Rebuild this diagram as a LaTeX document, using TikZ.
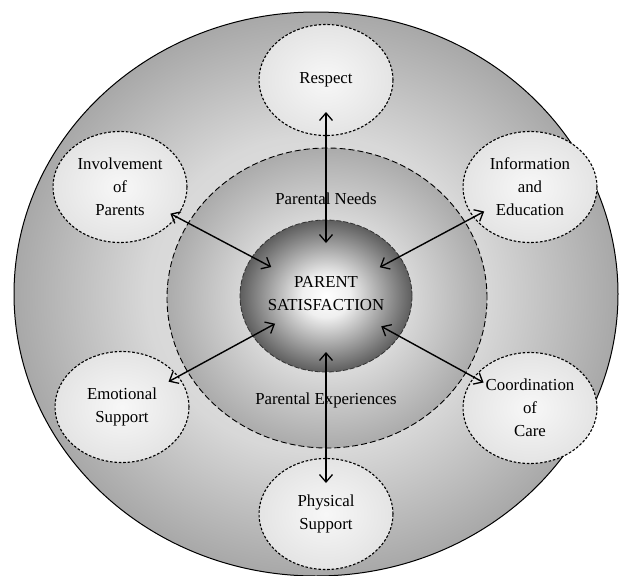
\documentclass[tikz,border=0pt]{standalone}
\usepackage{fontspec}
\setmainfont{Liberation Serif}
\usetikzlibrary{arrows.meta,shapes.geometric}
\definecolor{ringmid}{HTML}{D8D8D8}
\definecolor{ringedge}{HTML}{A8A8A8}
\definecolor{needmid}{HTML}{D8D8D8}
\definecolor{neededge}{HTML}{ABABAB}
\definecolor{coremid}{HTML}{EFEFEF}
\definecolor{coreedge}{HTML}{5E5E5E}
\definecolor{satedge}{HTML}{E4E4E4}
\pgfdeclareradialshading{outershade}{\pgfpoint{0bp}{0bp}}{color(0bp)=(ringmid!60!white); color(14bp)=(ringmid); color(25bp)=(ringedge); color(50bp)=(ringedge)}
\pgfdeclareradialshading{needshade}{\pgfpoint{0bp}{0bp}}{color(0bp)=(white!95!black); color(13bp)=(needmid); color(25bp)=(neededge); color(50bp)=(neededge)}
\pgfdeclareradialshading{coreshade}{\pgfpoint{0bp}{0bp}}{color(0bp)=(white); color(7bp)=(coremid); color(25bp)=(coreedge); color(50bp)=(coreedge)}
\pgfdeclareradialshading{satshade}{\pgfpoint{0bp}{0bp}}{color(0bp)=(white!97!black); color(25bp)=(satedge); color(50bp)=(satedge)}
\begin{document}
\begin{tikzpicture}[x=1pt,y=-1pt,
  txt/.style={font=\fontsize{16.8}{23}\selectfont, align=center},
  satellite/.style={ellipse, draw=black, line width=1.1pt, dash pattern=on 2.6pt off 1.8pt,
    minimum width=134pt, minimum height=111pt, inner sep=0pt, shading=satshade, txt},
  link/.style={{Straight Barb[length=7.5pt,width=13pt,line width=1.3pt]}-{Straight Barb[length=7.5pt,width=13pt,line width=1.3pt]}, line width=1.4pt}]
\useasboundingbox (0,0) rectangle (630,576);
% rings
\node[ellipse, draw=black, line width=1pt, minimum width=604pt, minimum height=564pt, inner sep=0pt, shading=outershade] (outer) at (316,294) {};
\node[ellipse, draw=black, line width=0.9pt, dash pattern=on 6pt off 3pt, minimum width=320pt, minimum height=300pt, inner sep=0pt, shading=needshade] (needs) at (327,298) {};
\node[ellipse, draw=black!80, line width=0.8pt, dash pattern=on 5pt off 2pt, minimum width=172pt, minimum height=152pt, inner sep=0pt, shading=coreshade] (core) at (326,296) {};
\node[txt] (coretext) at (326,294) {PARENT\\SATISFACTION};
\node[txt] (needlabel) at (326,199) {Parental Needs};
\node[txt] (explabel) at (326,400) {Parental Experiences};
% satellites
\node[satellite] (resp) at (326,80) {Respect};
\node[satellite] (inv) at (120,187) {Involvement\\of\\Parents};
\node[satellite] (info) at (530,187) {Information\\and\\Education};
\node[satellite] (emo) at (122,407) {Emotional\\Support};
\node[satellite] (coord) at (530,408) {Coordination\\of\\Care};
\node[satellite] (phys) at (326,514) {Physical\\Support};
% connectors
\draw[link, shorten <=32pt, shorten >=53pt] (resp.center) -- (core.center);
\draw[link, shorten <=57pt, shorten >=62pt] (inv.center) -- (core.center);
\draw[link, shorten <=52pt, shorten >=61pt] (info.center) -- (core.center);
\draw[link, shorten <=53pt, shorten >=58pt] (emo.center) -- (core.center);
\draw[link, shorten <=53pt, shorten >=63pt] (coord.center) -- (core.center);
\draw[link, shorten <=31pt, shorten >=56pt] (phys.center) -- (core.center);
\end{tikzpicture}
\end{document}
